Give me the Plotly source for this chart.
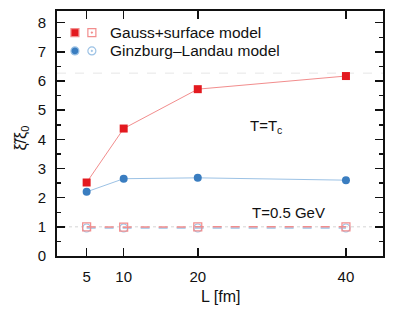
import plotly.graph_objects as go

# ---- data ----
L_values = [5, 10, 20, 40]
gauss_Tc = [2.52, 4.37, 5.72, 6.17]
gl_Tc = [2.20, 2.65, 2.68, 2.60]
gauss_T05 = [1.00, 0.99, 1.00, 1.00]
gl_T05 = [0.96, 0.96, 0.96, 0.96]
ref_levels = [6.27, 1.0]   # gray guide lines (dashed, dotted)
x_ticks = [5, 10, 20, 40]
y_ticks = [0, 1, 2, 3, 4, 5, 6, 7, 8]
legend_names = ["Gauss+surface model", "Ginzburg\u2013Landau model"]

RED = "#e3191f"
RED_L = "#f28d8d"
BLUE = "#3a7dc0"
BLUE_L = "#9cc2e5"
FONT = "Liberation Sans, Arial, sans-serif"
TXT = "#111111"

fig = go.Figure()

# guide lines
fig.add_hline(y=ref_levels[0], line=dict(color="#e6e6e6", width=1, dash="dash"), layer="below")
fig.add_hline(y=ref_levels[1], line=dict(color="#d4d4d4", width=1, dash="dot"), layer="below")

# T = 0.5 GeV (open)
fig.add_trace(go.Scatter(x=L_values, y=gl_T05, mode="lines+markers",
                         line=dict(color=BLUE_L, width=1.5, dash="dash"),
                         marker=dict(symbol="circle-open", size=8, color=BLUE_L, line=dict(width=1.2)),
                         showlegend=False))
fig.add_trace(go.Scatter(x=L_values, y=gauss_T05, mode="lines+markers",
                         line=dict(color=RED_L, width=1.5, dash="dash"),
                         marker=dict(symbol="square-open", size=8, color=RED_L, line=dict(width=1.2)),
                         showlegend=False))
# T = Tc (filled)
fig.add_trace(go.Scatter(x=L_values, y=gl_Tc, mode="lines+markers",
                         line=dict(color=BLUE_L, width=1),
                         marker=dict(symbol="circle", size=8, color=BLUE),
                         showlegend=False))
fig.add_trace(go.Scatter(x=L_values, y=gauss_Tc, mode="lines+markers",
                         line=dict(color=RED_L, width=1),
                         marker=dict(symbol="square", size=8, color=RED),
                         showlegend=False))

# manual legend on an overlay axis (0..1 range spanning the plot area)
leg_y = [0.912, 0.837]
fig.add_trace(go.Scatter(x=[0.055, 0.107], y=[leg_y[0]] * 2, xaxis="x2", yaxis="y2", mode="markers",
                         marker=dict(symbol=["square", "square-open-dot"], size=8,
                                     color=[RED, RED_L], line=dict(width=1.2, color=RED_L)),
                         showlegend=False, hoverinfo="skip"))
fig.add_trace(go.Scatter(x=[0.055, 0.107], y=[leg_y[1]] * 2, xaxis="x2", yaxis="y2", mode="markers",
                         marker=dict(symbol=["circle", "circle-open-dot"], size=8,
                                     color=[BLUE, BLUE_L], line=dict(width=1.2, color=BLUE_L)),
                         showlegend=False, hoverinfo="skip"))
for yy, name in zip(leg_y, legend_names):
    fig.add_annotation(x=0.156, y=yy, xref="x2", yref="y2", text=name, showarrow=False,
                       xanchor="left", yanchor="middle", font=dict(size=15.5, color=TXT, family=FONT))

fig.add_annotation(x=26.8, y=4.45, text="T=T<sub>c</sub>", showarrow=False, xanchor="left",
                   yanchor="middle", font=dict(size=15, color=TXT, family=FONT))
fig.add_annotation(x=27.0, y=1.5, text="T=0.5 GeV", showarrow=False, xanchor="left",
                   yanchor="middle", font=dict(size=15, color=TXT, family=FONT))

# axis titles
fig.add_annotation(x=0.5, y=-0.167, xref="paper", yref="paper", text="L [fm]", showarrow=False,
                   xanchor="center", yanchor="middle", font=dict(size=16, color=TXT, family=FONT))
fig.add_annotation(x=-0.11, y=0.48, xref="paper", yref="paper", text="\u03be\u0303/\u03be<sub>0</sub>",
                   textangle=-90, showarrow=False, xanchor="center", yanchor="middle",
                   font=dict(size=16, color=TXT, family=FONT))

axis_common = dict(showgrid=False, zeroline=False, showline=True, linecolor="#111", linewidth=2,
                   ticks="inside", tickcolor="#111", tickwidth=1.5, mirror="ticks", automargin=False,
                   tickfont=dict(size=15, color=TXT, family=FONT))

fig.update_layout(
    template="none",
    width=399, height=313,
    margin=dict(l=57, r=16, t=11, b=57, autoexpand=False),
    plot_bgcolor="white", paper_bgcolor="white",
    font=dict(family=FONT, color=TXT),
    hovermode=False,
    xaxis=dict(range=[1, 45], tickvals=x_ticks, ticklen=8, ticklabelstandoff=6, **axis_common),
    yaxis=dict(range=[0, 8.4], tickvals=y_ticks, ticklen=8, ticklabelstandoff=6,
               minor=dict(dtick=0.5, ticklen=4, tickcolor="#111", tickwidth=1.5, ticks="inside"),
               **axis_common),
    xaxis2=dict(range=[0, 1], overlaying="x", visible=False, fixedrange=True, automargin=False),
    yaxis2=dict(range=[0, 1], overlaying="y", visible=False, fixedrange=True, automargin=False),
)

fig.write_html("out.html", config={"displayModeBar": False, "staticPlot": True},
               post_script="document.body.style.margin='0';document.body.style.overflow='hidden';")
